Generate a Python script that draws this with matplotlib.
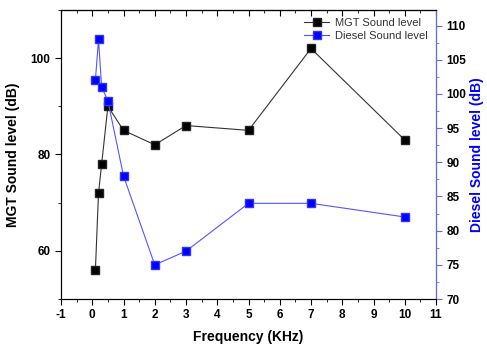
import matplotlib
matplotlib.use("Agg")
import matplotlib.pyplot as plt
from matplotlib.ticker import MultipleLocator

plt.rcParams['font.family'] = ['Liberation Sans', 'DejaVu Sans']
plt.rcParams['axes.unicode_minus'] = False

freq = [0.1, 0.2, 0.3, 0.5, 1, 2, 3, 5, 7, 10]
mgt_level = [56, 72, 78, 90, 85, 82, 86, 85, 102, 83]
diesel_level = [102, 108, 101, 99, 88, 75, 77, 84, 84, 82]

fig = plt.figure(figsize=(4.87, 3.45), dpi=100)
ax = fig.add_axes([0.1253, 0.1333, 0.77, 0.838])
ax2 = ax.twinx()

l1, = ax.plot(freq, mgt_level, color='#333333', lw=0.8, marker='s', ms=5.5,
              mfc='black', mec='#222222', label='MGT Sound level')
l2, = ax2.plot(freq, diesel_level, color='#5555ff', lw=0.8, marker='s', ms=5.5,
               mfc='#0000ff', mec='#3333ff', label='Diesel Sound level')

ax.set_xlim(-1, 11)
ax.set_ylim(50, 110)
ax2.set_ylim(70, 112.3)

ax.xaxis.set_major_locator(MultipleLocator(1))
ax.xaxis.set_minor_locator(MultipleLocator(0.5))
ax.yaxis.set_major_locator(MultipleLocator(20))
ax.yaxis.set_minor_locator(MultipleLocator(10))
ax2.yaxis.set_major_locator(MultipleLocator(5))
ax2.yaxis.set_minor_locator(MultipleLocator(2.5))

ax.tick_params(axis='x', which='both', direction='out', labelsize=8.5)
ax.tick_params(axis='x', which='major', length=4)
ax.tick_params(axis='x', which='minor', length=2.5)
ax.tick_params(axis='y', which='major', direction='out', length=4, labelsize=8.5)
ax.tick_params(axis='y', which='minor', direction='out', length=2.5)
ax2.tick_params(axis='y', which='major', direction='out', length=4, labelsize=8.5,
                color='#6666ff')
ax2.tick_params(axis='y', which='minor', direction='out', length=2.5, color='#6666ff')
ax2.spines['right'].set_color('#6666ff')
for s in ('left', 'top', 'bottom'):
    ax.spines[s].set_color('#222222')

top = ax.secondary_xaxis('top')
top.xaxis.set_major_locator(MultipleLocator(1))
top.xaxis.set_minor_locator(MultipleLocator(0.5))
top.tick_params(axis='x', which='both', direction='in', labeltop=False)
top.tick_params(axis='x', which='major', length=4)
top.tick_params(axis='x', which='minor', length=2.5)

for a in (ax, ax2):
    for lab in a.get_xticklabels() + a.get_yticklabels():
        lab.set_fontweight('bold')

ax.set_xlabel('Frequency (KHz)', fontsize=10, fontweight='bold', labelpad=6)
ax.set_ylabel('MGT Sound level (dB)', fontsize=10, fontweight='bold', labelpad=8)
ax2.set_ylabel('Diesel Sound level (dB)', fontsize=10, fontweight='bold',
               color='#0000ff', labelpad=3)

leg = ax.legend([l1, l2], ['MGT Sound level', 'Diesel Sound level'],
                loc='upper right', frameon=False, fontsize=8,
                handlelength=2.2, borderaxespad=0.3, labelspacing=0.3,
                handletextpad=0.6)
for t in leg.get_texts():
    t.set_color('#333333')

fig.savefig('out.png', dpi=100)
